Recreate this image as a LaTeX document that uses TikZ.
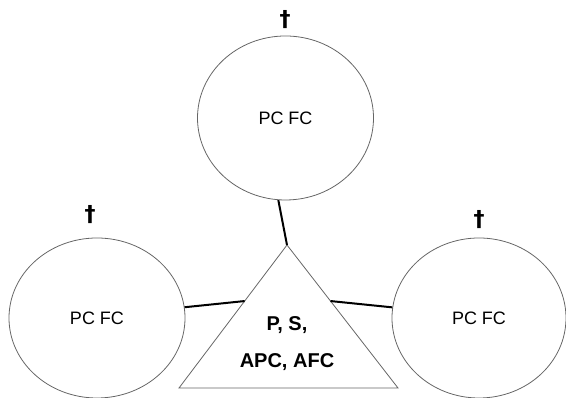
\documentclass[tikz,border=0pt]{standalone}
\usepackage{fontspec}
\setmainfont{Liberation Sans}
\newfontfamily\dagfont{DejaVu Sans}
\usetikzlibrary{shapes.geometric,calc}
\begin{document}
\begin{tikzpicture}[x=1pt,y=1pt,
  cell/.style={ellipse,draw=black!60,line width=0.8pt,inner sep=0pt,font=\fontsize{18}{20}\selectfont},
  link/.style={draw=black,line width=2pt},
  dag/.style={font=\dagfont\bfseries\fontsize{22}{24}\selectfont,inner sep=0pt},
  core/.style={font=\bfseries\fontsize{20}{22}\selectfont,inner sep=0pt}]
\useasboundingbox (0,0) rectangle (566,398);
\node[cell,minimum width=176pt,minimum height=164pt] (T) at (285.5,280) {PC FC};
\node[cell,minimum width=176pt,minimum height=160pt] (L) at (97,80) {PC FC};
\node[cell,minimum width=174pt,minimum height=160pt] (R) at (479,80) {PC FC};
\coordinate (A) at (287,153);
\coordinate (B1) at (179,10);
\coordinate (B2) at (398,10);
\draw[draw=black!60,line width=0.8pt] (A) -- (B1) -- (B2) -- cycle;
\node[core] (t1) at (287,73) {P, S,};
\node[core] (t2) at (287,36) {APC, AFC};
\coordinate (EL) at ($(A)!0.392!(B1)$);
\coordinate (ER) at ($(A)!0.392!(B2)$);
\draw[link] (T.265) -- (A);
\draw[link] (L.7) -- (EL);
\draw[link] (R.173) -- (ER);
\node[dag] (d1) at (285,378) {†};
\node[dag] (d2) at (90,183) {†};
\node[dag] (d3) at (479,178) {†};
\end{tikzpicture}
\end{document}
